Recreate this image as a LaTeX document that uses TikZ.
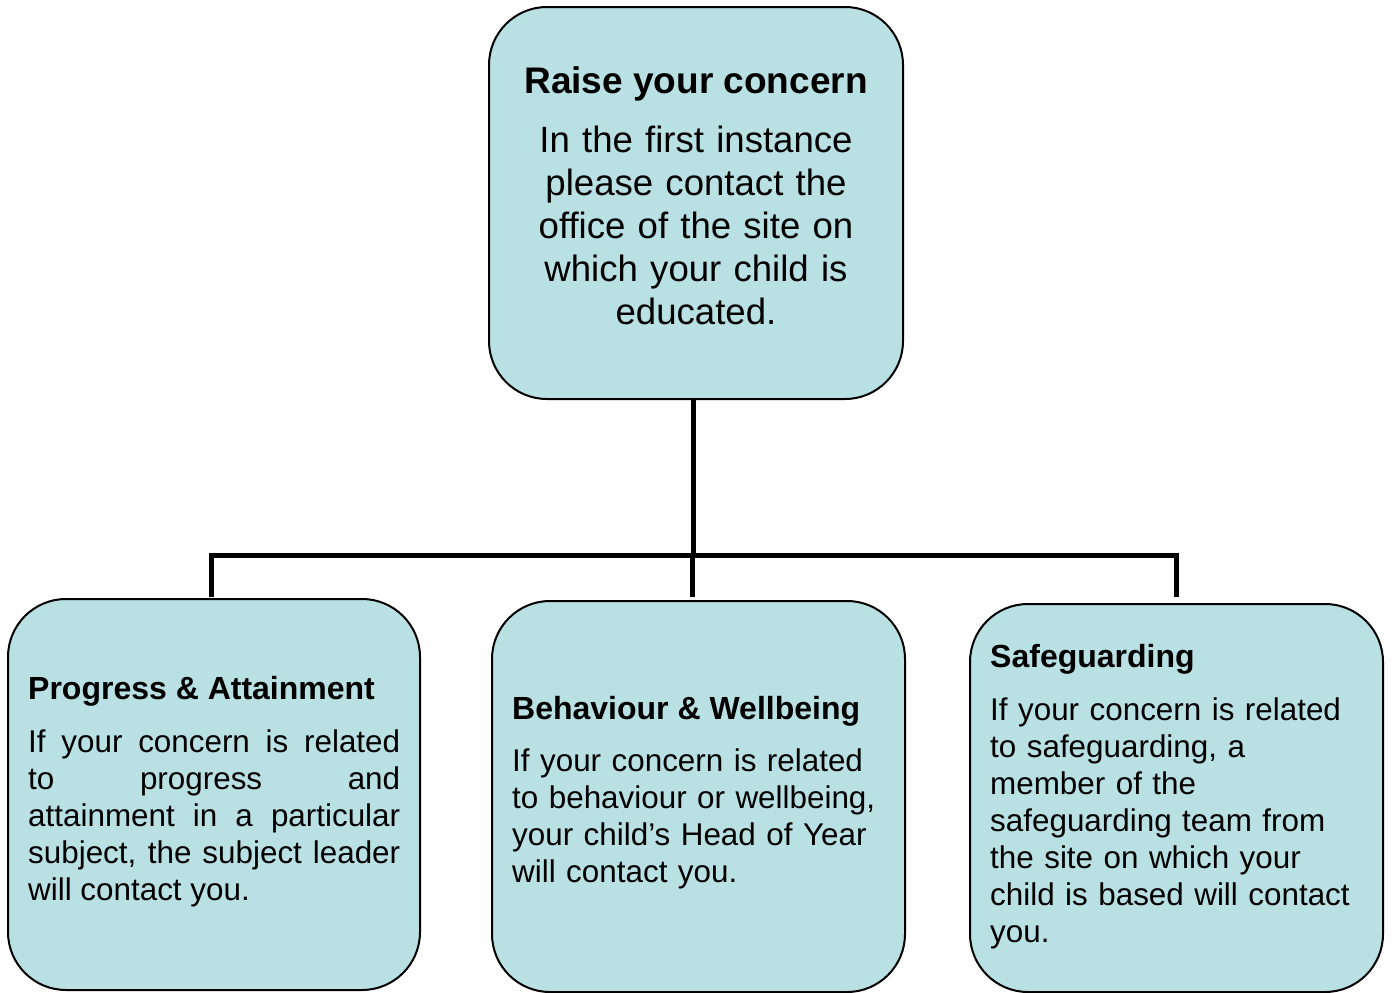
\documentclass[tikz,border=0pt]{standalone}
\usepackage{fontspec}
\setmainfont{Liberation Sans}
\definecolor{boxfill}{RGB}{185,224,227}
\begin{document}
\begin{tikzpicture}[x=1pt,y=-1pt,
  box/.style={draw=black, line width=2pt, fill=boxfill, rounded corners=58pt, inner sep=0pt},
  conn/.style={draw=black, line width=5pt},
  bigtitle/.style={font={\fontsize{37}{43}\selectfont\bfseries}, inner sep=0pt},
  bigtext/.style={font={\fontsize{36.6}{43}\selectfont}, inner sep=0pt, text width=400pt, align=center},
  subtitle/.style={font={\fontsize{32}{37}\selectfont\bfseries}, inner sep=0pt},
  subtext/.style={font={\fontsize{31.4}{37}\selectfont}, inner sep=0pt, text width=372pt}]
\useasboundingbox (0,0) rectangle (1392,993);
% boxes
\node[box, minimum width=414pt, minimum height=392pt] (top) at (696,203) {};
\node[box, minimum width=412pt, minimum height=391pt] (left) at (214,794.5) {};
\node[box, minimum width=413pt, minimum height=391pt] (mid) at (698.5,796.5) {};
\node[box, minimum width=413pt, minimum height=388pt] (right) at (1176.5,798) {};
% connectors
\coordinate (hub) at (693,555);
\coordinate (hl) at (211,555);
\coordinate (hr) at (1176,555);
\coordinate (dl) at (211,597);
\coordinate (dm) at (692,597);
\coordinate (dr) at (1176,597);
\draw[conn] (hub |- top.south) -- (hub);
\draw[conn] (dl) -- (hl) -- (hr) -- (dr);
\draw[conn] (hub -| dm) -- (dm);
% texts
\node[bigtitle, anchor=base] (toptitle) at (696,93) {Raise your concern};
\node[bigtext, anchor=base] (topbody) at (696,152) {In the first instance\\please contact the\\office of the site on\\which your child is\\educated.};
\node[subtitle, anchor=base west] (lefttitle) at (28,699) {Progress \& Attainment};
\node[subtext, anchor=base west, align=justify] (leftbody) at (28,752) {If your concern is related\linebreak to progress and\linebreak attainment in a particular\linebreak subject, the subject leader\linebreak will contact you.};
\node[subtitle, anchor=base west] (midtitle) at (512,719) {Behaviour \& Wellbeing};
\node[subtext, anchor=base west, align=left] (midbody) at (512,771) {If your concern is related\\to behaviour or wellbeing,\\your child’s Head of Year\\will contact you.};
\node[subtitle, anchor=base west] (righttitle) at (990,667) {Safeguarding};
\node[subtext, anchor=base west, align=left] (rightbody) at (990,720) {If your concern is related\\to safeguarding, a\\member of the\\safeguarding team from\\the site on which your\\child is based will contact\\you.};
\end{tikzpicture}
\end{document}
